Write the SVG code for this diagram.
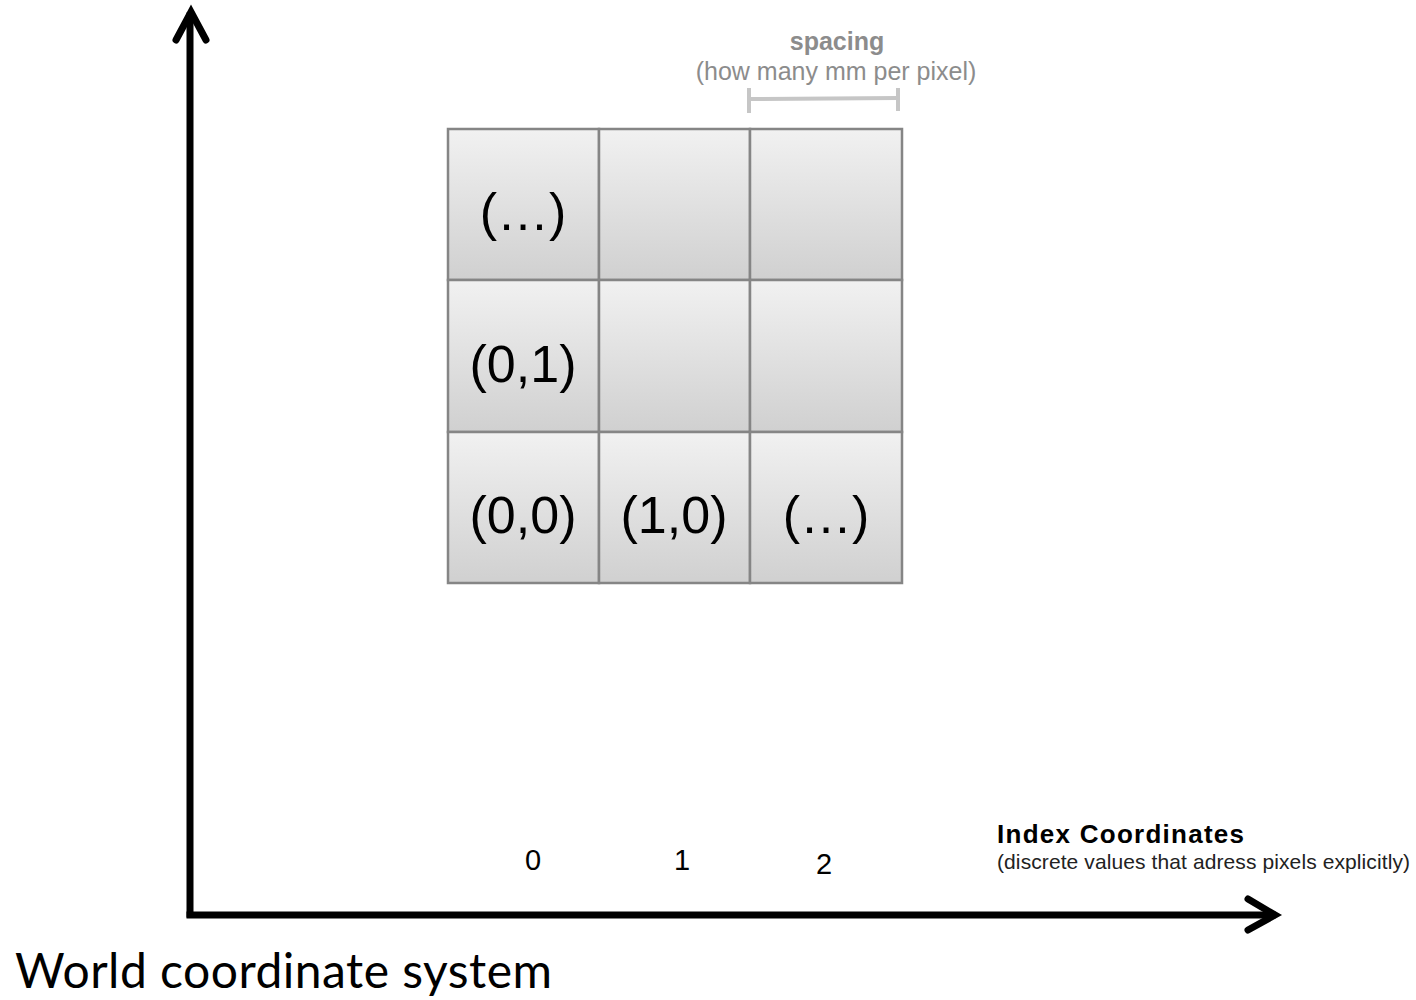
<svg xmlns="http://www.w3.org/2000/svg" width="1416" height="1000" viewBox="0 0 1416 1000">
  <style>
    .cell { fill: url(#cellFill); stroke: #858585; stroke-width: 2.5; }
    .lbl { font-family: "Liberation Sans", Arial, sans-serif; font-size: 52px; fill: #000; text-anchor: middle; }
    .idx { font-family: "Liberation Sans", Arial, sans-serif; font-size: 29px; fill: #000; text-anchor: middle; }
    .axis { stroke: #000; stroke-width: 7; fill: none; stroke-linecap: square; }
    .head { stroke: #000; stroke-width: 7; fill: none; stroke-linecap: round; stroke-linejoin: miter; }
    .gray { font-family: "Liberation Sans", Arial, sans-serif; fill: #8c8c8c; text-anchor: middle; }
  </style>
  <defs>
    <linearGradient id="cellFill" x1="0" y1="0" x2="0" y2="1">
      <stop offset="0" stop-color="#f1f1f1"/>
      <stop offset="1" stop-color="#d0d0d0"/>
    </linearGradient>
  </defs>
  <rect width="1416" height="1000" fill="#fff"/>

  <!-- pixel grid -->
  <g id="cell-top-left"><rect class="cell" x="448" y="129" width="151" height="151"/><text class="lbl" x="523" y="230">(…)</text></g>
  <g id="cell-top-mid"><rect class="cell" x="599" y="129" width="151" height="151"/></g>
  <g id="cell-top-right"><rect class="cell" x="750" y="129" width="152" height="151"/></g>
  <g id="cell-0-1"><rect class="cell" x="448" y="280" width="151" height="152"/><text class="lbl" x="523" y="382">(0,1)</text></g>
  <g id="cell-mid-mid"><rect class="cell" x="599" y="280" width="151" height="152"/></g>
  <g id="cell-mid-right"><rect class="cell" x="750" y="280" width="152" height="152"/></g>
  <g id="cell-0-0"><rect class="cell" x="448" y="432" width="151" height="151"/><text class="lbl" x="523" y="533">(0,0)</text></g>
  <g id="cell-1-0"><rect class="cell" x="599" y="432" width="151" height="151"/><text class="lbl" x="674" y="533">(1,0)</text></g>
  <g id="cell-bottom-right"><rect class="cell" x="750" y="432" width="152" height="151"/><text class="lbl" x="826" y="533">(…)</text></g>

  <!-- spacing annotation -->
  <g id="spacing">
    <text class="gray" x="837" y="50" font-size="25" font-weight="bold">spacing</text>
    <text class="gray" x="836" y="80" font-size="25" fill="#999">(how many mm per pixel)</text>
    <g stroke="#c6c6c6" stroke-width="4" fill="none">
      <line x1="749" y1="88" x2="749" y2="113"/>
      <line x1="898" y1="88" x2="898" y2="111"/>
      <line x1="749" y1="99" x2="898" y2="98"/>
    </g>
  </g>

  <!-- axes -->
  <g id="connectors">
    <line class="axis" x1="190" y1="16" x2="190" y2="914"/>
    <polyline class="head" points="176,40 191,12 206,40"/>
    <line class="axis" x1="190" y1="915" x2="1272" y2="915"/>
    <polyline class="head" points="1248,899 1275,915 1248,930"/>
  </g>

  <!-- index labels -->
  <g id="index-axis">
    <text class="idx" x="533" y="870">0</text>
    <text class="idx" x="682" y="870">1</text>
    <text class="idx" x="824" y="874">2</text>
    <text x="997" y="843" font-family="Liberation Sans, Arial, sans-serif" font-size="26" font-weight="bold" fill="#000" textLength="247">Index Coordinates</text>
    <text x="997" y="869" font-family="Liberation Sans, Arial, sans-serif" font-size="21" fill="#222" textLength="413">(discrete values that adress pixels explicitly)</text>
  </g>

  <g id="world-label">
    <text x="15" y="988" font-family="Lato, 'Open Sans', sans-serif" font-size="48" fill="#000" textLength="537">World coordinate system</text>
  </g>
</svg>
